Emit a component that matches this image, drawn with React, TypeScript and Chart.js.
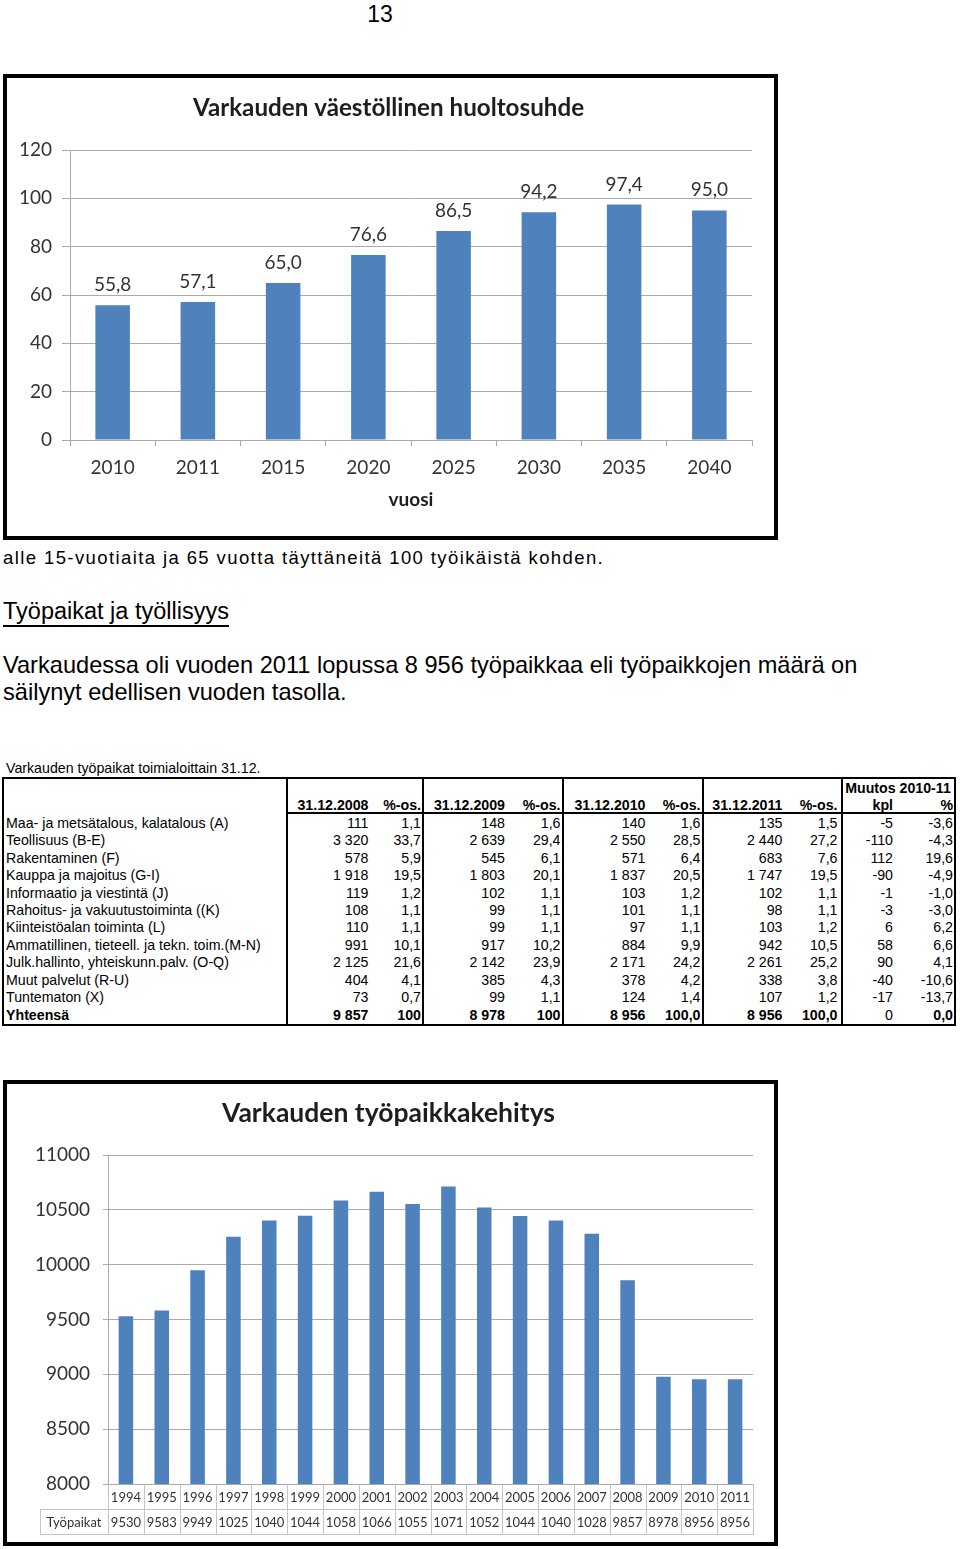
import React, { useEffect, useRef } from 'react';
import { Chart, registerables } from 'chart.js';

Chart.register(...registerables);

const CHART_FONT = 'Lato, "Open Sans", "DejaVu Sans", sans-serif';
const DOC_FONT = '"Liberation Sans", Arial, Helvetica, sans-serif';
const BAR_BLUE = '#4F81BD';
const GRID = '#ababab';
const INK = '#333333';

// ---------- page texts ----------
const pageNumber = '13';
const captionLine = 'alle 15-vuotiaita ja 65 vuotta täyttäneitä 100 työikäistä kohden.';
const sectionHeading = 'Työpaikat ja työllisyys';
const paragraphLines = [
  'Varkaudessa oli vuoden 2011 lopussa 8 956 työpaikkaa eli työpaikkojen määrä on',
  'säilynyt edellisen vuoden tasolla.',
];
const tableCaption = 'Varkauden työpaikat toimialoittain 31.12.';

// ---------- chart 1 ----------
const ratioTitle = 'Varkauden väestöllinen huoltosuhde';
const ratioAxisTitle = 'vuosi';
const ratioYears = ['2010', '2011', '2015', '2020', '2025', '2030', '2035', '2040'];
const ratioValues = [55.8, 57.1, 65.0, 76.6, 86.5, 94.2, 97.4, 95.0];
const ratioTickValues = [0, 20, 40, 60, 80, 100, 120];

// ---------- chart 2 ----------
const jobsTitle = 'Varkauden työpaikkakehitys';
const jobsRowLabel = 'Työpaikat';
const jobYears = ['1994', '1995', '1996', '1997', '1998', '1999', '2000', '2001', '2002', '2003', '2004', '2005', '2006', '2007', '2008', '2009', '2010', '2011'];
const jobCounts = [9530, 9583, 9949, 10254, 10402, 10445, 10584, 10665, 10553, 10712, 10522, 10443, 10402, 10283, 9857, 8978, 8956, 8956];
const jobTickValues = [8000, 8500, 9000, 9500, 10000, 10500, 11000];

// ---------- table ----------
const headerTop = 'Muutos 2010-11';
const headerCols = ['31.12.2008', '%-os.', '31.12.2009', '%-os.', '31.12.2010', '%-os.', '31.12.2011', '%-os.', 'kpl', '%'];
const sectorNames = [
  'Maa- ja metsätalous, kalatalous (A)',
  'Teollisuus (B-E)',
  'Rakentaminen (F)',
  'Kauppa ja majoitus (G-I)',
  'Informaatio ja viestintä (J)',
  'Rahoitus- ja vakuutustoiminta ((K)',
  'Kiinteistöalan toiminta (L)',
  'Ammatillinen, tieteell. ja tekn. toim.(M-N)',
  'Julk.hallinto, yhteiskunn.palv. (O-Q)',
  'Muut palvelut (R-U)',
  'Tuntematon (X)',
  'Yhteensä',
];
const jobs2008 = [111, 3320, 578, 1918, 119, 108, 110, 991, 2125, 404, 73, 9857];
const share2008 = ['1,1', '33,7', '5,9', '19,5', '1,2', '1,1', '1,1', '10,1', '21,6', '4,1', '0,7', '100'];
const jobs2009 = [148, 2639, 545, 1803, 102, 99, 99, 917, 2142, 385, 99, 8978];
const share2009 = ['1,6', '29,4', '6,1', '20,1', '1,1', '1,1', '1,1', '10,2', '23,9', '4,3', '1,1', '100'];
const jobs2010 = [140, 2550, 571, 1837, 103, 101, 97, 884, 2171, 378, 124, 8956];
const share2010 = ['1,6', '28,5', '6,4', '20,5', '1,2', '1,1', '1,1', '9,9', '24,2', '4,2', '1,4', '100,0'];
const jobs2011 = [135, 2440, 683, 1747, 102, 98, 103, 942, 2261, 338, 107, 8956];
const share2011 = ['1,5', '27,2', '7,6', '19,5', '1,1', '1,1', '1,2', '10,5', '25,2', '3,8', '1,2', '100,0'];
const changeCount = [-5, -110, 112, -90, -1, -3, 6, 58, 90, -40, -17, 0];
const changePct = ['-3,6', '-4,3', '19,6', '-4,9', '-1,0', '-3,0', '6,2', '6,6', '4,1', '-10,6', '-13,7', '0,0'];

const fmtThousands = (n: number) => {
  const s = String(Math.abs(n));
  const out = s.length > 3 ? s.slice(0, s.length - 3) + ' ' + s.slice(-3) : s;
  return (n < 0 ? '-' : '') + out;
};

// ---------- plugins ----------
const frameTitle = (text: string, x: number, y: number, size: number) => ({
  id: 'frameTitle',
  afterDraw(chart: any) {
    const ctx = chart.ctx;
    ctx.save();
    ctx.font = `bold ${size}px ${CHART_FONT}`;
    ctx.fillStyle = '#1e1e1e';
    ctx.textAlign = 'center';
    ctx.textBaseline = 'middle';
    ctx.fillText(text, x, y);
    ctx.restore();
  },
});

const barValueLabels = {
  id: 'barValueLabels',
  afterDatasetsDraw(chart: any) {
    const ctx = chart.ctx;
    const meta = chart.getDatasetMeta(0);
    const data = chart.data.datasets[0].data as number[];
    ctx.save();
    ctx.font = `19px ${CHART_FONT}`;
    ctx.fillStyle = INK;
    ctx.textAlign = 'center';
    ctx.textBaseline = 'alphabetic';
    meta.data.forEach((el: any, i: number) => {
      ctx.fillText(data[i].toFixed(1).replace('.', ','), el.x, el.y - 14);
    });
    ctx.restore();
  },
};

const jobsDataTable = {
  id: 'jobsDataTable',
  afterDraw(chart: any) {
    const { ctx, chartArea: a } = chart;
    const x = chart.scales.x;
    const labels = chart.data.labels as string[];
    const data = chart.data.datasets[0].data as number[];
    const n = labels.length;
    const half = (x.getPixelForValue(1) - x.getPixelForValue(0)) / 2;
    const rowH = 25;
    const r1 = a.bottom;
    const r2 = a.bottom + rowH;
    const r3 = a.bottom + 2 * rowH;
    const labelLeft = 33;
    ctx.save();
    ctx.strokeStyle = '#c4c4c4';
    ctx.lineWidth = 1;
    ctx.beginPath();
    ctx.moveTo(labelLeft, Math.round(r2) + 0.5);
    ctx.lineTo(a.right, Math.round(r2) + 0.5);
    ctx.moveTo(labelLeft, Math.round(r3) + 0.5);
    ctx.lineTo(a.right, Math.round(r3) + 0.5);
    for (let i = 0; i <= n; i++) {
      const px = Math.round(i < n ? x.getPixelForValue(i) - half : x.getPixelForValue(n - 1) + half) + 0.5;
      ctx.moveTo(px, r1);
      ctx.lineTo(px, Math.round(r3) + 1);
    }
    ctx.moveTo(labelLeft + 0.5, Math.round(r2));
    ctx.lineTo(labelLeft + 0.5, Math.round(r3) + 1);
    ctx.stroke();
    ctx.fillStyle = INK;
    ctx.textAlign = 'center';
    ctx.textBaseline = 'middle';
    ctx.font = `13px ${CHART_FONT}`;
    labels.forEach((lab, i) => {
      const cx = x.getPixelForValue(i);
      ctx.fillText(lab, cx, r1 + rowH / 2 + 1);
      ctx.fillText(String(data[i]).slice(0, 4), cx, r2 + rowH / 2 + 1);
    });
    ctx.fillText(jobsRowLabel, (labelLeft + a.left) / 2, r2 + rowH / 2 + 1);
    ctx.restore();
  },
};

// ---------- chart components ----------
const CW = 767;
const CH = 458;

function RatioChart() {
  const ref = useRef<HTMLCanvasElement>(null);
  useEffect(() => {
    const chart = new Chart(ref.current as HTMLCanvasElement, {
      type: 'bar',
      data: {
        labels: ratioYears,
        datasets: [{ data: ratioValues, backgroundColor: BAR_BLUE, barPercentage: 0.81, categoryPercentage: 0.5 }],
      },
      options: {
        animation: false,
        responsive: false,
        maintainAspectRatio: false,
        devicePixelRatio: 1,
        layout: { padding: { top: 72, right: 22, bottom: 0, left: 0 } },
        plugins: { legend: { display: false }, tooltip: { enabled: false }, title: { display: false } },
        scales: {
          x: {
            grid: { offset: true, drawOnChartArea: false, drawTicks: true, tickLength: 6, color: GRID },
            border: { color: GRID },
            ticks: { font: { family: CHART_FONT, size: 19 }, color: INK, padding: 10 },
            title: {
              display: true,
              text: ratioAxisTitle,
              font: { family: CHART_FONT, size: 19, weight: 'bold' },
              color: '#1e1e1e',
              padding: { top: 0, bottom: 24.6 },
            },
            afterFit: (s: any) => { s.height = 96; },
          },
          y: {
            min: ratioTickValues[0],
            max: ratioTickValues[ratioTickValues.length - 1],
            ticks: {
              stepSize: ratioTickValues[1] - ratioTickValues[0],
              font: { family: CHART_FONT, size: 19 },
              color: INK,
              padding: 10,
              callback: (v: any) => String(v),
            },
            grid: { color: GRID, tickLength: 8 },
            border: { color: GRID },
            afterFit: (s: any) => { s.width = 63; },
          },
        },
      } as any,
      plugins: [barValueLabels, frameTitle(ratioTitle, 381.5, 30, 24.2)],
    });
    return () => chart.destroy();
  }, []);
  return <canvas ref={ref} width={CW} height={CH} style={{ display: 'block', width: CW, height: CH }} />;
}

function JobsChart() {
  const ref = useRef<HTMLCanvasElement>(null);
  useEffect(() => {
    const chart = new Chart(ref.current as HTMLCanvasElement, {
      type: 'bar',
      data: {
        labels: jobYears,
        datasets: [{ data: jobCounts, backgroundColor: BAR_BLUE, barPercentage: 0.81, categoryPercentage: 0.5 }],
      },
      options: {
        animation: false,
        responsive: false,
        maintainAspectRatio: false,
        devicePixelRatio: 1,
        layout: { padding: { top: 71, right: 21, bottom: 58, left: 0 } },
        plugins: { legend: { display: false }, tooltip: { enabled: false }, title: { display: false } },
        scales: {
          x: { display: false },
          y: {
            min: jobTickValues[0],
            max: jobTickValues[jobTickValues.length - 1],
            ticks: {
              stepSize: jobTickValues[1] - jobTickValues[0],
              font: { family: CHART_FONT, size: 19 },
              color: INK,
              padding: 13,
              callback: (v: any) => String(v),
            },
            grid: { color: GRID, tickLength: 5 },
            border: { color: GRID },
            afterFit: (s: any) => { s.width = 101; },
          },
        },
      } as any,
      plugins: [jobsDataTable, frameTitle(jobsTitle, 381.5, 29, 26.5)],
    });
    return () => chart.destroy();
  }, []);
  return <canvas ref={ref} width={CW} height={CH} style={{ display: 'block', width: CW, height: CH }} />;
}

// ---------- text helper ----------
type TProps = {
  x: number;
  base: number;
  text: string;
  fs: number;
  lh?: number;
  align?: 'left' | 'right' | 'center';
  bold?: boolean;
  style?: React.CSSProperties;
};

function Txt({ x, base, text, fs, lh, align = 'left', bold = false, style }: TProps) {
  const L = lh ?? Math.round(fs * 1.2);
  const top = base - L / 2 - 0.3465 * fs;
  const w = 1000;
  const left = align === 'left' ? x : align === 'right' ? x - w : x - w / 2;
  return (
    <div
      style={{
        position: 'absolute',
        left,
        top,
        width: align === 'left' ? undefined : w,
        textAlign: align,
        fontFamily: DOC_FONT,
        fontSize: fs,
        lineHeight: `${L}px`,
        fontWeight: bold ? 'bold' : 'normal',
        whiteSpace: 'nowrap',
        color: '#000',
        ...style,
      }}
    >
      {text}
    </div>
  );
}

const TFS = 14.2;
const COL_RIGHT = [368.5, 421, 505, 560.5, 645.5, 700.5, 782.5, 837.5, 893, 953];
const VLINES = [3, 287, 423, 563, 703, 842, 955];
const TABLE_TOP = 778;
const TABLE_BOTTOM = 1025;
const HEAD_LINE = 813;
const ROW0_BASE = 828.3;
const ROW_STEP = 17.43;

function JobsTable() {
  const lw = 1.5;
  const els: React.ReactNode[] = [];
  els.push(<div key="ht" style={{ position: 'absolute', left: 3, top: TABLE_TOP - lw / 2, width: 953, height: lw, background: '#000' }} />);
  els.push(<div key="hb" style={{ position: 'absolute', left: 3, top: TABLE_BOTTOM - lw / 2, width: 953, height: lw, background: '#000' }} />);
  els.push(<div key="hh" style={{ position: 'absolute', left: 287, top: HEAD_LINE - lw / 2, width: 669, height: lw, background: '#000' }} />);
  VLINES.forEach((vx, i) =>
    els.push(<div key={'v' + i} style={{ position: 'absolute', left: vx - lw / 2, top: TABLE_TOP - lw / 2, width: lw, height: TABLE_BOTTOM - TABLE_TOP + lw, background: '#000' }} />)
  );
  els.push(<Txt key="mt" x={898} base={793.3} text={headerTop} fs={TFS} align="center" bold />);
  headerCols.forEach((h, i) => els.push(<Txt key={'h' + i} x={COL_RIGHT[i]} base={810} text={h} fs={TFS} align="right" bold />));
  sectorNames.forEach((name, r) => {
    const base = ROW0_BASE + r * ROW_STEP;
    const total = r === sectorNames.length - 1;
    const cells = [
      fmtThousands(jobs2008[r]), share2008[r],
      fmtThousands(jobs2009[r]), share2009[r],
      fmtThousands(jobs2010[r]), share2010[r],
      fmtThousands(jobs2011[r]), share2011[r],
      fmtThousands(changeCount[r]), changePct[r],
    ];
    els.push(<Txt key={'n' + r} x={6} base={base} text={name} fs={TFS} bold={total} />);
    cells.forEach((c, i) =>
      els.push(<Txt key={'c' + r + '_' + i} x={COL_RIGHT[i]} base={base} text={c} fs={TFS} align="right" bold={total && i !== 8} />)
    );
  });
  return <>{els}</>;
}

export default function App() {
  return (
    <div style={{ position: 'absolute', left: 0, top: 0, width: 960, height: 1549, background: '#fff', overflow: 'hidden', fontFamily: DOC_FONT }}>
      <Txt x={380} base={22} text={pageNumber} fs={23} align="center" />

      <div style={{ position: 'absolute', left: 3, top: 74, width: CW, height: CH, border: '4px solid #000' }}>
        <RatioChart />
      </div>

      <Txt x={3} base={564} text={captionLine} fs={18.5} style={{ letterSpacing: '1.4px' }} />
      <Txt
        x={3}
        base={619.3}
        text={sectionHeading}
        fs={23.5}
        style={{ textDecoration: 'underline', textUnderlineOffset: '6px', textDecorationThickness: '1.5px' }}
      />
      <Txt x={3} base={673.5} text={paragraphLines[0]} fs={23.6} lh={24} />
      <Txt x={3} base={700} text={paragraphLines[1]} fs={23.6} lh={24} />

      <Txt x={6} base={773.3} text={tableCaption} fs={TFS} />
      <JobsTable />

      <div style={{ position: 'absolute', left: 3, top: 1080, width: CW, height: CH, border: '4px solid #000' }}>
        <JobsChart />
      </div>
    </div>
  );
}
